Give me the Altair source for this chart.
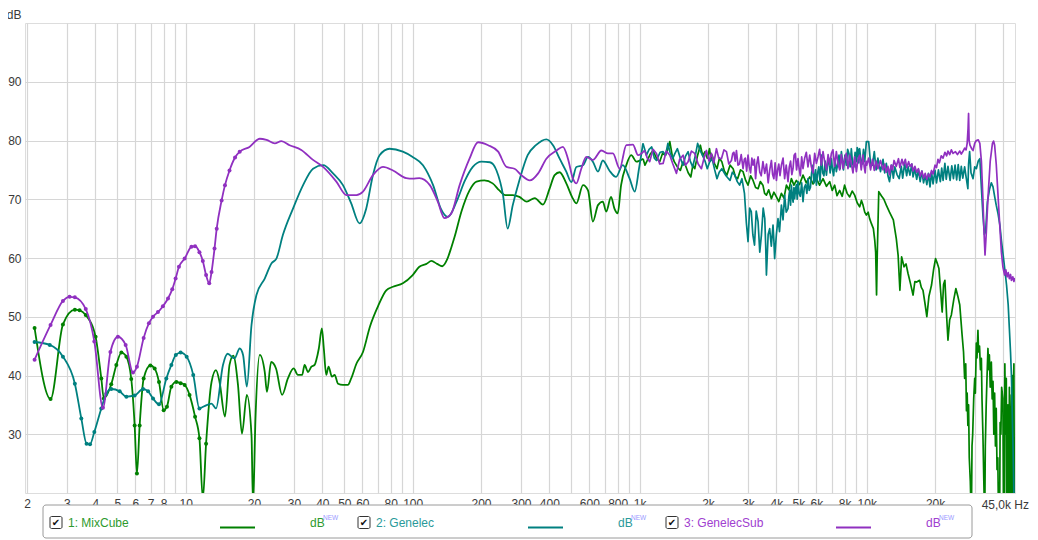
import altair as alt
import pandas as pd

# ---------------- data ----------------
SERIES_NAMES = ["1: MixCube", "2: Genelec", "3: GenelecSub"]
SERIES_COLORS = ["#008000", "#008080", "#9030c0"]
LEGEND_TEXT_COLORS = ["#2e9a2e", "#2a9a9a", "#a040d0"]
DOT_LIMITS = [12.5, 11.6, 17.5]      # measurement points drawn as dots below these Hz
SMOOTH_LIMITS = [1035, 1034, 1052]   # smooth curve below, raw (jagged) trace above

MIXCUBE = [(2.16,48.1),(2.54,36.0),(2.88,48.7),(3.25,51.2),(3.41,51.1),(3.63,50.3),(4.01,46.6),(4.25,39.5),(4.36,36.1),(4.7,38.5),(4.95,41.8),(5.21,43.9),(5.48,43.2),(5.76,39.4),(5.96,31.5),(6.1,23.3),(6.27,31.5),(6.53,39.5),(6.99,41.7),(7.3,41.2),(7.63,38.9),(8.0,34.1),(8.27,34.7),(8.65,38.1),(9.1,38.9),(9.5,38.7),(9.9,38.4),(10.4,36.7),(11.0,33.0),(11.5,29.3),(11.9,19.0),(12.3,28.4),
(13.0,38.9),(13.6,40.9),(14.1,38.9),(14.9,33.0),(15.6,41.8),(16.2,43.4),(17.0,38.4),(17.7,30.1),(18.6,36.7),(19.5,29.8),(19.8,18.0),(20.3,32.7),(21.2,43.5),(22.3,40.6),(22.8,37.2),(23.8,42.3),(25.0,41.2),(26.6,36.7),(28.2,39.5),(29.9,41.2),(31.2,40.1),(32.6,40.1),(33.4,41.8),(34.6,40.6),(35.8,41.5),(37.0,41.8),(37.6,42.6),(38.6,44.6),(39.8,48.0),(40.6,44.6),(41.6,40.1),(42.6,41.5),(44.1,39.8),(45.3,40.1),(46.9,38.6),(49.3,38.4),(51.8,38.4),(53.6,39.5),(56.5,42.0),(60.4,44.0),(64.8,48.3),(70.2,51.7),(76.5,54.5),(81.9,55.1),(90.5,55.7),(100,57.1),(107,58.5),(115,59.0),(121,59.5),(128,59.0),(135,58.6),(142,59.8),(148,61.8),(153,63.6),(164,67.9),(178,71.5),(191,73.0),(207,73.2),(225,72.7),(241,71.5),(256,70.7),(276,70.7),(295,70.4),(318,69.6),(345,70.2),(375,69.1),(401,71.8),(422,74.1),(444,74.6),(475,72.7),(508,70.1),(526,69.3),(563,72.4),(592,71.5),(622,66.2),(655,69.0),(688,69.6),(712,67.9),(748,70.4),(774,68.4),(800,67.6),(828,72.4),(873,75.8),(918,77.5),(967,76.4),
(1035,76.9),(1055,75.8),(1080,76.6),(1110,77.6),(1145,78.3),(1185,77.0),(1225,76.4),(1260,77.8),(1300,77.5),(1330,78.5),(1357,79.8),(1390,77.5),(1420,76.4),(1465,75.5),(1510,74.9),(1550,76.3),(1590,75.8),(1635,74.5),(1680,73.8),(1715,75.8),(1747,75.2),(1800,77.5),(1850,79.2),(1895,77.4),(1940,78.1),(1985,77.0),(2030,78.6),(2060,76.8),(2085,77.5),(2140,76.0),(2190,75.2),(2245,77.0),(2300,76.4),(2360,74.8),(2420,74.1),(2500,75.8),(2580,75.2),(2640,73.8),(2700,73.5),(2780,75.0),(2853,74.7),(2930,73.2),(3001,72.4),(3080,74.0),(3158,73.2),(3240,72.0),(3322,71.8),(3400,73.0),(3490,72.4),(3550,71.0),(3616,70.7),(3700,71.6),(3804,70.1),(3900,71.2),(4002,70.4),(4100,69.6),(4210,71.0),(4320,70.2),(4430,72.4),(4540,71.6),(4657,73.5),(4780,72.4),(4900,73.2),(5060,72.5),(5241,74.1),(5420,72.8),(5610,73.8),(5800,72.6),(6003,73.5),(6200,72.4),(6421,73.5),(6650,72.2),(6871,73.0),(7050,71.5),(7225,72.4),(7400,70.6),(7600,71.5),(7800,70.5),(7990,72.4),(8200,71.0),(8414,70.4),(8630,71.4),(8850,70.7),(9080,69.4),(9311,68.7),(9480,69.8),(9632,69.0),(9800,67.8),(9964,67.3),(10150,67.8),(10300,66.7),(10500,65.8),(10700,65.0),(10850,63.0),(10950,61.0),
(11050,53.7),(11120,60.0),(11300,71.3),(11600,70.6),(11900,70.0),(12200,69.0),(12600,67.8),(13100,66.5),(13500,63.3),(13750,60.5),(14000,54.5),(14250,60.2),(14600,58.5),(14900,59.0),(15200,57.4),(15600,55.6),(16000,53.7),(16300,56.0),(16600,55.9),(17100,56.2),(17400,55.0),(17700,54.5),(18100,52.0),(18400,50.0),(18800,53.5),(19300,55.4),(19700,58.0),(20100,59.9),(20500,59.0),(20800,58.2),(21200,54.0),(21500,50.8),(21800,55.5),(22100,56.2),(22500,50.0),(22800,46.0),(23200,49.5),(23600,50.3),(24200,53.0),(24700,54.8),(25200,53.5),(25700,52.0),
(26300,47.0),(26700,44.0),(27000,39.5),(27300,42.0),(27500,34.0),(27700,37.0),(27900,31.5),(28100,35.0),(28300,26.0),(28600,22.0),(28900,15.0),(29100,28.0),(29300,30.0),(29600,36.0),(29900,39.5),(30100,37.0),(30400,45.5),(30600,43.0),(30900,47.7),(31100,44.0),(31400,45.0),(31700,41.0),(32000,42.9),(32200,36.0),(32500,30.0),(32800,22.0),(33100,15.0),(33300,28.0),(33600,35.0),(33900,40.0),(34200,44.6),(34500,41.0),(34700,43.5),(35000,38.0),(35400,42.3),(35700,36.0),(36000,39.0),(36300,30.0),(36600,37.0),(36900,28.0),(37200,34.4),(37500,24.0),(37800,26.0),(38100,15.0),(38500,15.0),(38700,32.0),(39000,30.0),(39300,38.0),(39800,36.1),(40000,20.0),(40200,32.0),(40400,15.0),(40600,42.0),(40900,30.0),(41200,39.5),(41400,15.0),(41600,25.0),(41900,35.0),(42300,15.0),(42500,38.0),(42800,30.0),(43100,15.0),(43400,36.7),(43700,20.0),(43900,40.0),(44100,15.0),(44300,38.0),(44500,42.0),(44700,18.0),(44900,15.0)]

GENELEC = [(2.16,45.7),(2.52,45.2),(2.88,43.2),(3.25,38.6),(3.47,32.7),(3.66,28.4),(3.79,28.3),(3.96,30.4),(4.25,34.4),(4.47,36.9),(4.7,37.7),(5.12,37.3),(5.48,36.4),(5.96,36.6),(6.49,37.7),(6.83,37.3),(7.18,36.1),(7.63,35.1),(8.22,39.5),(8.65,41.8),(9.05,43.5),(9.5,43.9),(10.1,43.2),(10.8,40.1),(11.5,34.4),
(12.1,34.8),(13.0,35.2),(13.6,34.4),(14.6,41.8),(15.3,43.7),(16.4,42.9),(17.3,44.6),(17.9,43.5),(18.6,38.1),(19.5,48.6),(20.5,53.7),(22.3,56.5),(23.9,59.1),(25.1,59.9),(26.8,63.9),(29.7,68.4),(32.9,72.4),(36.4,75.2),(40.3,75.8),(44.6,74.4),(49.3,72.4),(53.6,69.3),(58.3,65.9),(62.4,68.4),(66.8,74.1),(71.5,77.5),(79.1,78.6),(90.5,78.1),(100,77.2),(111,75.8),(123,72.4),(133,68.4),(143,67.0),(156,69.6),(170,73.2),(184,75.5),(201,76.4),(219,76.3),(234,74.9),(250,70.7),(262,65.0),(276,69.0),(295,73.2),(321,77.5),(349,79.2),(388,80.2),(415,79.2),(444,76.9),(475,74.7),(500,72.9),(526,75.5),(563,75.8),(592,77.2),(622,76.4),(655,74.7),(688,76.6),(735,74.9),(787,73.8),(842,75.8),(903,73.5),(951,71.3),(993,75.2),
(1034,79.5),(1071,77.5),(1100,78.5),(1130,78.9),(1160,77.0),(1185,76.6),(1230,78.0),(1268,78.1),(1300,77.5),(1331,79.5),(1360,78.0),(1397,76.9),(1430,77.8),(1466,78.6),(1510,77.0),(1553,75.8),(1590,77.3),(1634,78.1),(1670,76.5),(1712,75.5),(1760,77.5),(1800,79.5),(1845,78.3),(1890,77.5),(1940,76.5),(1985,75.2),(2030,76.3),(2085,76.9),(2140,75.0),(2190,73.5),(2240,74.6),(2300,75.2),(2400,74.0),(2500,73.2),(2560,74.6),(2626,74.1),(2690,73.0),(2755,72.4),(2820,73.5),(2894,71.0),
(2950,66.0),(3001,62.8),(3050,68.5),(3101,67.9),(3150,64.0),(3205,62.2),(3260,68.0),(3322,66.2),(3380,61.0),(3437,63.9),(3500,68.5),(3556,66.7),(3590,62.0),(3616,57.1),(3680,64.0),(3737,65.0),(3800,62.0),(3866,65.6),(3900,63.0),(3930,59.9),(4000,64.0),(4067,66.7),(4130,64.5),(4210,69.0),(4280,66.5),(4350,70.7),(4420,67.8),
(4501,68.4),(4540,70.5),(4580,71.5),(4620,69.0),(4657,72.4),(4700,70.5),(4740,69.5),(4780,72.0),(4815,70.1),(4860,71.8),(4900,72.5),(4940,70.0),(4982,73.0),(5040,71.0),(5100,70.5),(5170,72.8),(5241,69.6),(5310,72.0),(5380,72.5),(5450,71.0),(5515,73.5),(5580,71.5),(5650,72.0),(5720,74.5),(5800,75.8),(5850,72.8),(5900,73.5),(5950,75.0),(6003,72.4),(6080,74.5),(6150,75.5),(6230,73.0),(6316,77.5),(6400,74.5),(6480,74.0),(6560,76.5),(6646,74.1),(6720,76.0),(6800,77.0),(6900,74.5),(6990,76.9),(7070,75.0),(7150,74.0),(7250,76.8),(7350,74.7),(7450,76.0),(7550,77.5),(7640,75.2),(7735,78.1),(7820,76.5),(7900,75.0),(8020,77.5),(8134,75.8),(8240,78.5),(8350,77.8),(8450,75.5),(8556,78.6),(8670,76.0),(8780,75.5),(8890,78.0),(9006,76.4),(9080,78.8),(9150,78.5),(9230,76.2),(9311,78.6),(9430,76.5),(9550,76.0),(9680,78.5),(9800,76.4),(9880,78.0),(9964,79.8),
(10200,79.8),(10400,76.0),(10600,75.8),(10800,78.1),(11000,75.0),(11200,77.0),(11500,74.7),(11800,76.8),(12000,74.5),(12200,76.1),(12400,74.0),(12600,73.0),(12900,75.8),(13100,73.6),(13300,75.5),(13600,74.2),(13900,73.5),(14200,75.6),(14400,73.6),(14700,76.1),(15000,74.0),(15200,75.6),(15500,74.1),(15800,76.0),(16000,73.8),(16300,75.2),(16600,73.4),(16900,75.0),(17200,73.0),(17500,74.8),(17800,72.8),(18100,74.1),(18400,72.5),(18700,74.4),(19000,72.1),(19300,74.6),(19600,72.6),(20000,74.9),(20300,72.8),(20700,75.0),(21100,73.0),(21400,75.3),(21700,73.2),(22100,76.1),(22400,73.4),(22800,75.6),(23300,73.2),(23700,75.7),(24100,73.5),(24500,75.8),(24900,73.3),(25300,75.9),(25700,73.2),(26100,75.6),(26500,73.6),(27000,75.5),(27400,73.8),(27900,71.8),(28100,76.0),(28400,78.1),(28800,74.5),(29400,73.5),(29900,75.5),(30400,75.2),(31000,76.5),(31500,76.9),(32000,72.0),(32500,67.3),(33000,64.0),(33400,64.5),(34000,69.5),(34800,71.8),(35400,72.8),(36000,72.1),(36600,70.5),(37200,69.0),(37900,67.5),(38600,65.6),(39200,63.0),(39900,60.5),(40600,58.0),(41300,55.4),(42000,52.0),(42500,48.0),(43000,44.0),(43400,40.0),(43800,33.0),(44100,28.0),(44600,18.0),(44950,10.0)]

GENELEC_SUB = [(2.16,42.7),(2.54,48.6),(2.88,52.7),(3.08,53.4),(3.25,53.3),(3.63,51.3),(3.96,45.8),(4.32,34.5),(4.66,44.0),(5.03,46.6),(5.44,45.2),(5.86,40.5),(6.1,41.5),(6.53,46.4),(6.89,48.9),(7.18,50.0),(7.55,50.8),(7.94,51.8),(8.36,53.1),(8.73,54.7),(9.03,56.5),(9.34,58.5),(9.9,59.9),(10.6,61.9),(11.0,62.0),(11.5,61.0),(11.9,59.5),(12.3,57.1),(12.7,55.7),(13.0,57.6),(13.4,61.6),(13.7,65.0),(14.4,69.8),(14.9,72.4),(15.6,74.9),(16.5,77.1),(17.3,78.1),
(19.1,78.9),(21.2,80.3),(22.7,80.1),(24.7,79.5),(26.4,79.9),(28.7,79.2),(32.3,78.4),(36.4,76.7),(40.3,75.5),(46.1,73.0),(51.1,70.7),(56.5,70.7),(60.4,71.3),(66.8,74.1),(74.0,75.5),(81.9,74.9),(93.7,73.6),(100,73.5),(107,73.6),(119,72.4),(129,69.6),(138,66.8),(148,67.6),(161,72.4),(178,76.9),(194,79.7),(215,79.2),(238,78.1),(259,75.5),(281,75.2),(301,74.1),(328,73.2),(357,74.4),(388,76.9),(430,78.3),(459,78.9),(483,76.9),(508,73.5),(526,72.7),(553,75.2),(582,77.2),(622,76.7),(678,78.3),(725,77.8),(762,77.8),(816,75.2),(873,79.2),(933,79.3),(984,77.5),
(1052,78.3),(1080,77.0),(1107,76.4),(1145,78.5),(1185,77.8),(1225,76.0),(1268,76.1),(1310,78.2),(1357,77.5),(1400,76.0),(1452,74.4),(1500,76.8),(1553,77.5),(1590,75.8),(1634,76.4),(1690,78.2),(1747,77.8),(1810,76.0),(1870,75.2),(1920,77.0),(1967,78.3),(2020,76.5),(2070,77.8),(2120,76.2),(2178,78.6),(2230,77.0),(2291,76.9),(2350,78.4),(2411,78.1),(2470,76.0),
(2536,76.6),(2570,77.8),(2600,78.0),(2635,76.5),(2668,78.3),(2710,75.8),(2750,76.0),(2800,77.6),(2853,75.2),(2890,76.8),(2920,77.0),(2960,74.8),(3001,77.5),(3040,75.5),(3080,74.5),(3120,77.0),(3158,75.8),(3200,76.8),(3240,73.5),(3280,76.0),(3322,77.2),(3380,74.6),(3430,74.0),(3490,76.4),(3556,74.4),(3620,76.0),(3680,72.8),(3740,75.0),(3804,76.6),(3850,74.2),(3900,73.5),(3950,76.2),(4002,73.2),(4050,75.0),(4100,76.0),(4150,74.0),(4210,75.8),(4280,77.0),(4350,73.5),(4420,75.8),(4501,73.0),(4560,75.5),(4620,76.5),(4680,74.2),(4735,75.2),(4790,77.5),(4850,77.8),(4910,75.0),(4982,76.9),(5040,75.2),(5100,74.0),(5170,77.2),(5241,75.2),(5330,77.0),(5420,78.0),(5510,75.5),(5610,77.5),(5700,75.6),(5800,74.5),(5900,77.8),(6003,76.1),(6100,77.2),(6200,78.5),(6310,75.8),(6421,78.1),(6540,76.2),(6650,75.0),(6760,77.6),(6871,75.8),(6990,77.8),(7100,78.4),(7220,75.6),(7350,78.1),(7480,76.0),(7600,75.0),(7730,77.6),(7866,75.2),(8000,77.0),(8130,77.8),(8270,75.2),(8414,77.5),(8560,76.0),(8700,74.5),(8850,77.2),(9006,74.7),(9150,76.8),(9300,77.5),(9460,75.0),(9632,77.5),(9750,75.5),(9850,74.5),(9930,76.5),
(10000,75.8),(10200,77.0),(10400,75.0),(10600,76.8),(10800,74.9),(11000,76.5),(11200,75.2),(11500,76.6),(11800,75.0),(12000,76.0),(12200,74.6),(12400,75.6),(12600,74.2),(12800,75.8),(13000,75.0),(13200,76.6),(13500,75.6),(13800,76.9),(14000,75.4),(14300,76.8),(14500,75.8),(14800,76.8),(15000,75.4),(15300,76.4),(15500,75.6),(15800,76.0),(16000,74.8),(16300,75.6),(16600,74.6),(16900,75.2),(17200,73.9),(17500,74.8),(17800,73.6),(18100,74.4),(18400,73.4),(18700,74.3),(19000,73.8),(19300,74.9),(19600,74.3),(20000,75.8),(20300,75.4),(20600,76.8),(20900,76.2),(21300,77.4),(21700,77.0),(22100,78.0),(22500,77.4),(22800,78.2),(23200,77.6),(23600,78.4),(24000,77.8),(24600,78.1),(25100,77.6),(25700,78.2),(26100,77.7),(26600,78.2),(27000,78.7),(27400,78.4),(27700,79.5),(27950,82.0),(28100,84.6),(28250,80.0),(28500,79.2),(29000,78.6),(29400,78.3),(29900,79.5),(30400,80.0),(31000,80.1),(31500,79.5),(32000,76.5),(32500,70.1),(32900,64.0),(33200,60.5),(33600,64.0),(34200,70.1),(35000,76.5),(35800,79.5),(36200,79.9),(36600,79.2),(37200,76.0),(37800,71.3),(38500,66.0),(39200,61.0),(39800,58.5),(40500,57.1),(41000,58.0),(41500,56.8),(42000,57.5),(42500,56.5),(43000,57.2),(43400,56.2),(44000,56.8),(44500,56.0),(44900,56.6)]

X_GRID = [2,3,4,5,6,7,8,9,10,20,30,40,50,60,70,80,90,100,200,300,400,500,600,700,800,900,
          1000,2000,3000,4000,5000,6000,7000,8000,9000,10000,20000,30000,40000]
X_LABELED = [2,3,4,5,6,7,8,10,20,30,40,50,60,80,100,200,300,400,600,800,
             1000,2000,3000,4000,5000,6000,8000,10000,20000]
X_END_LABEL = "45,0k Hz"
Y_TICKS = [30, 40, 50, 60, 70, 80, 90]
X_DOMAIN = [1.96, 45000]
Y_DOMAIN = [20, 100]

# ---------------- build table ----------------
rows = []
for name, pts in zip(SERIES_NAMES, [MIXCUBE, GENELEC, GENELEC_SUB]):
    for hz, db in pts:
        rows.append({"series": name, "hz": hz, "db": db})
df = pd.DataFrame(rows)

FONT = "Liberation Sans"
W, H = 990, 470

xscale = alt.Scale(type="log", domain=X_DOMAIN, nice=False)
yscale = alt.Scale(domain=Y_DOMAIN, nice=False)

label_expr = (f"indexof({X_LABELED}, datum.value) >= 0 ? "
              "(datum.value >= 1000 ? (datum.value / 1000) + 'k' : '' + datum.value) : ''")

x_axis = alt.Axis(values=X_GRID, labelExpr=label_expr, grid=True, ticks=False, domain=False,
                  labelOverlap=False, labelFlush=False, labelPadding=5, labelFont=FONT,
                  labelFontSize=12, labelColor="#3a3a3a", gridColor="#d6d6d6", gridWidth=1.2,
                  title=None)
y_axis = alt.Axis(values=Y_TICKS, grid=True, ticks=False, domain=False, labelPadding=4,
                  labelFont=FONT, labelFontSize=12, labelColor="#3a3a3a",
                  gridColor="#d6d6d6", gridWidth=1.2, title="dB", titleAngle=0,
                  titleX=-4, titleY=-9, titleAlign="right", titleBaseline="middle",
                  titleFont=FONT, titleFontSize=12, titleFontWeight="normal",
                  titleColor="#3a3a3a")

base = alt.Chart(df)
enc = dict(x=alt.X("hz:Q", scale=xscale), y=alt.Y("db:Q", scale=yscale))
layers = []
# axes carrier (invisible)
layers.append(base.mark_point(opacity=0).encode(
    x=alt.X("hz:Q", scale=xscale, axis=x_axis),
    y=alt.Y("db:Q", scale=yscale, axis=y_axis)))

for name, color, lim, split in zip(SERIES_NAMES, SERIES_COLORS, DOT_LIMITS, SMOOTH_LIMITS):
    sel = alt.datum.series == name
    layers.append(base.transform_filter(sel & (alt.datum.hz <= split)).mark_line(
        clip=True, interpolate="monotone", strokeWidth=1.8, color=color).encode(**enc))
    layers.append(base.transform_filter(sel & (alt.datum.hz >= split)).mark_line(
        clip=True, interpolate="linear", strokeWidth=1.7, color=color,
        strokeJoin="round").encode(**enc))
    layers.append(base.transform_filter(sel & (alt.datum.hz < lim)).mark_circle(
        size=16, opacity=1, color=color, clip=True).encode(**enc))

# end label of the x axis
end_df = pd.DataFrame({"hz": [X_DOMAIN[1]], "t": [X_END_LABEL]})
layers.append(alt.Chart(end_df).mark_text(align="right", baseline="middle", dx=14,
                                          font=FONT, fontSize=12, color="#3a3a3a").encode(
    x=alt.X("hz:Q", scale=xscale), y=alt.value(H + 12), text="t:N"))

# ---------------- legend box ----------------
one = alt.Data(values=[{"k": 0}])
layers.append(alt.Chart(one).mark_rect(fill="white", stroke="#9a9a9a", strokeWidth=1,
                                       cornerRadius=3).encode(
    x=alt.value(18), x2=alt.value(947), y=alt.value(482), y2=alt.value(515)))

for i, (name, color, tcolor) in enumerate(zip(SERIES_NAMES, SERIES_COLORS, LEGEND_TEXT_COLORS)):
    bx = 25 + 308 * i
    layers.append(alt.Chart(one).mark_rect(fill="white", stroke="#333333", strokeWidth=1,
                                           cornerRadius=1.5).encode(
        x=alt.value(bx), x2=alt.value(bx + 12), y=alt.value(493.5), y2=alt.value(505.5)))
    layers.append(alt.Chart(one).mark_text(text="\u2714", font="DejaVu Sans", fontSize=10,
                                           color="#111111", align="center",
                                           baseline="middle").encode(
        x=alt.value(bx + 6), y=alt.value(500)))
    layers.append(alt.Chart(one).mark_text(text=name, font=FONT, fontSize=12, color=tcolor,
                                           align="left", baseline="middle").encode(
        x=alt.value(bx + 18), y=alt.value(500)))
    layers.append(alt.Chart(one).mark_rule(color=color, strokeWidth=2).encode(
        x=alt.value(bx + 170), x2=alt.value(bx + 205), y=alt.value(504.5)))
    layers.append(alt.Chart(one).mark_text(text="dB", font=FONT, fontSize=12, color=tcolor,
                                           align="left", baseline="middle").encode(
        x=alt.value(bx + 260), y=alt.value(500)))
    layers.append(alt.Chart(one).mark_text(text="NEW", font=FONT, fontSize=6.5,
                                           color="#9a9aff", align="left",
                                           baseline="middle").encode(
        x=alt.value(bx + 273), y=alt.value(495)))

chart = alt.layer(*layers).properties(
    width=W, height=H,
    autosize=alt.AutoSizeParams(type="none"),
    padding={"left": 17, "top": 15, "right": 15, "bottom": 47},
).configure_view(stroke="#a8a8a8", strokeWidth=2).configure(background="white")

chart.save("out.html", embed_options={"renderer": "svg", "actions": False})
